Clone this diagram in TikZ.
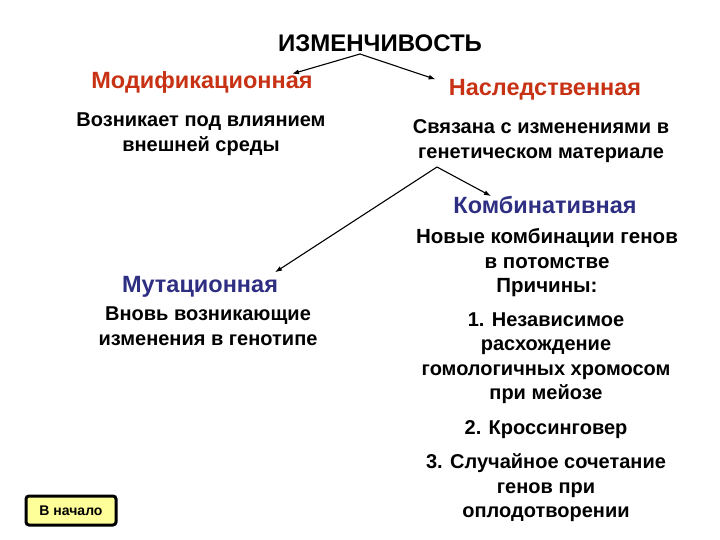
\documentclass[tikz,border=0pt]{standalone}
\usepackage{fontspec}
\setmainfont{Liberation Sans}
\usetikzlibrary{positioning,arrows.meta}
\definecolor{modred}{RGB}{200,50,20}
\definecolor{kombblue}{RGB}{46,46,130}
\definecolor{btnyellow}{RGB}{255,255,153}

\begin{document}
\begin{tikzpicture}[x=1pt, y=-1pt,
    title/.style={font=\fontsize{24}{28}\selectfont\bfseries, inner sep=0},
    kind/.style={font=\fontsize{23.5}{27}\selectfont\bfseries, inner sep=0},
    txt/.style={font=\fontsize{20}{24.5}\selectfont\bfseries, align=center, inner sep=0},
    link/.style={-{Latex[length=7pt,width=5pt]}, line width=1.1pt}]
    \useasboundingbox (0,0) rectangle (720,540);

    \node[title] (izm) at (380,43) {ИЗМЕНЧИВОСТЬ};
    \node[kind, text=modred] (mod) at (202,82) {Модификационная};
    \node[kind, text=modred] (nasl) at (545,90) {Наследственная};
    \node[txt] (moddesc) at (201,134) {Возникает под влиянием\\внешней среды};
    \node[txt] (nasldesc) at (541,141) {Связана с изменениями в\\генетическом материале};

    \node[kind, text=kombblue] (komb) at (545,205) {Комбинативная};
    \node[txt, font=\fontsize{20.5}{24.5}\selectfont\bfseries] (kombdesc) at (547,263) {Новые комбинации генов\\в потомстве\\Причины:};
    \node[kind, text=kombblue] (mut) at (200,287) {Мутационная};
    \node[txt] (mutdesc) at (208,326) {Вновь возникающие\\изменения в генотипе};

    \node[txt] (reason1) at (546,358) {1. Независимое\\расхождение\\гомологичных хромосом\\при мейозе};
    \node[txt] (reason2) at (546,430) {2. Кроссинговер};
    \node[txt] (reason3) at (546,488) {3. Случайное сочетание\\генов при\\оплодотворении};

    % branch points
    \coordinate (split1) at (360,54);
    \coordinate (split2) at (437,167);

    \draw[link] (split1) -- ([xshift=90pt,yshift=-3pt]mod.north);
    \draw[link] (split1) -- ([xshift=-13pt]nasl.north west);
    \draw[link] (split2) -- ([xshift=-54pt]komb.north);
    \draw[link] (split2) -- ([xshift=75pt,yshift=4pt]mut.north);

    \node[draw, line width=3pt, rounded corners=3pt, fill=btnyellow,
          minimum width=90pt, minimum height=29pt,
          font=\fontsize{14}{16}\selectfont\bfseries] (home) at (71,510.5) {В начало};
\end{tikzpicture}
\end{document}
